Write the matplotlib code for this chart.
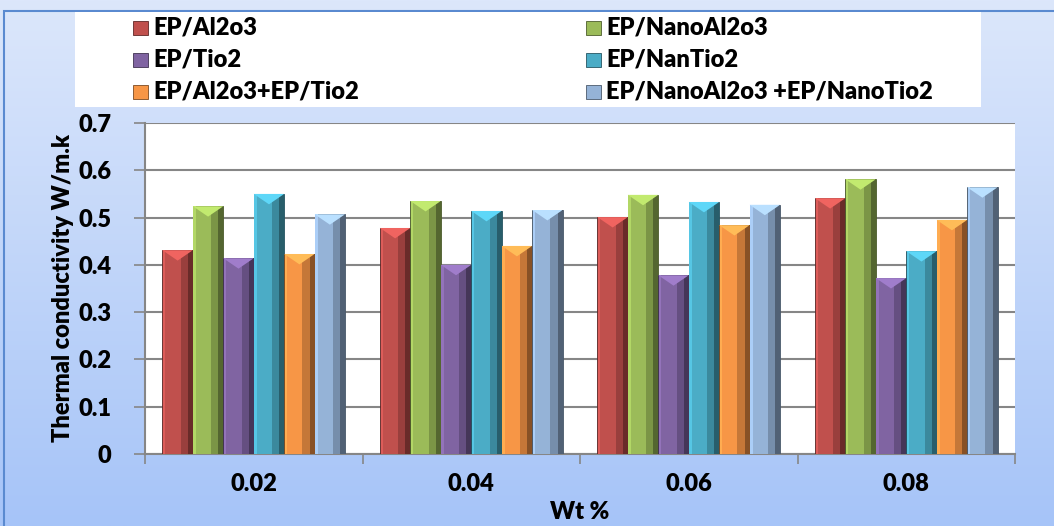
import numpy as np
import matplotlib.pyplot as plt
from matplotlib.patches import Rectangle
from matplotlib.colors import to_rgb

# data
categories = ['0.02', '0.04', '0.06', '0.08']
series_names = ['EP/Al2o3', 'EP/NanoAl2o3', 'EP/Tio2', 'EP/NanTio2',
                'EP/Al2o3+EP/Tio2', 'EP/NanoAl2o3 +EP/NanoTio2']
ep_al2o3 = [0.431, 0.478, 0.501, 0.541]
ep_nanoal2o3 = [0.524, 0.535, 0.548, 0.581]
ep_tio2 = [0.414, 0.400, 0.378, 0.372]
ep_nantio2 = [0.550, 0.514, 0.533, 0.429]
ep_mix = [0.423, 0.440, 0.484, 0.495]
ep_nanomix = [0.507, 0.516, 0.527, 0.564]
values = [ep_al2o3, ep_nanoal2o3, ep_tio2, ep_nantio2, ep_mix, ep_nanomix]
colors = ['#C0504D', '#9BBB59', '#8064A2', '#4BACC6', '#F79646', '#95B3D7']

W, H = 1054, 526
fig = plt.figure(figsize=(W/100, H/100), dpi=100)
plt.rcParams['font.family'] = ['Lato', 'DejaVu Sans']
FS = 17
FW = 'heavy'

# background gradient
bg = fig.add_axes([0, 0, 1, 1], zorder=-10)
grad = np.linspace(0, 1, 256)[:, None]
top = np.array(to_rgb('#dce7fb'))
bot = np.array(to_rgb('#a6c4f8'))
img = top[None, None, :] * (1 - grad[:, :, None]) + bot[None, None, :] * grad[:, :, None]
bg.imshow(img, aspect='auto', extent=[0, 1, 0, 1])
bg.add_patch(Rectangle((4/W, -0.01), 1.1, 1 - 11/H + 0.01, fill=False,
                       ec='#5a8ad0', lw=1.5, transform=bg.transAxes))
bg.set_xlim(0, 1); bg.set_ylim(0, 1)
bg.axis('off')

# plot area
ax = fig.add_axes([145/W, (H-454)/H, (1015-145)/W, (454-123)/H])
ax.set_facecolor('white')
n = len(values)
x = np.arange(len(categories))
bw = 0.14
for i, (vals, c) in enumerate(zip(values, colors)):
    pos = x - bw*n/2 + bw*(i + 0.5)
    base = np.array(to_rgb(c))
    ax.bar(pos, vals, bw, color=c, edgecolor=base*0.45, lw=0.6, zorder=3)
    # bevel look: light left edge, darker right side
    ax.bar(pos - bw*0.44, vals, bw*0.08, color=np.minimum(base*1.15, 1), lw=0, zorder=4)
    ax.bar(pos + bw*0.3, vals, bw*0.4, color=base*0.55, alpha=0.45, lw=0, zorder=4)
    ax.bar(pos + bw*0.42, vals, bw*0.16, color=base*0.3, alpha=0.5, lw=0, zorder=4)
    # top highlight triangle
    for p, v in zip(pos, vals):
        ax.fill([p - bw/2, p + bw/2, p], [v, v, v - 0.022],
                color=np.minimum(base*1.25, 1), zorder=5, lw=0)

ax.set_xlim(-0.5, len(categories) - 0.5)
ax.set_ylim(0, 0.7)
ax.set_yticks(np.arange(0, 0.71, 0.1))
ax.set_yticklabels(['0', '0.1', '0.2', '0.3', '0.4', '0.5', '0.6', '0.7'],
                   fontsize=FS, fontweight=FW)
ax.set_xticks(x)
ax.set_xticklabels(categories, fontsize=FS, fontweight=FW)
ax.set_xticks(np.arange(-0.5, len(categories)), minor=True)
ax.tick_params(axis='x', which='major', length=0, pad=14)
ax.tick_params(axis='x', which='minor', length=7, color='#868686', width=1.2)
ax.tick_params(axis='y', length=8, color='#868686', width=1.2, pad=16)
ax.yaxis.grid(True, color='#868686', lw=1.5, zorder=1)
ax.set_axisbelow(True)
for s in ['top', 'right']:
    ax.spines[s].set_visible(False)
for s in ['left', 'bottom']:
    ax.spines[s].set_color('#868686')
    ax.spines[s].set_linewidth(1.5)
ax.set_ylabel('Thermal conductivity W/m.k', fontsize=FS, fontweight=FW, labelpad=3)
fig.text(580/W, (H-512)/H, 'Wt %', fontsize=FS, fontweight=FW, ha='center', va='center')

# legend box
fig.patches.append(Rectangle((75/W, (H-107)/H), 906/W, 95/H, facecolor='white',
                             edgecolor='none', transform=fig.transFigure, zorder=1))
for i, (name, c) in enumerate(zip(series_names, colors)):
    row, col = i // 2, i % 2
    x0 = [133, 586][col]
    yc = [28, 60, 92][row]
    fig.patches.append(Rectangle((x0/W, (H-yc-7)/H), 15/W, 14/H, facecolor=c,
                                 edgecolor=np.array(to_rgb(c))*0.5, lw=0.6,
                                 transform=fig.transFigure, zorder=2))
    fig.text((x0+20)/W, (H-yc)/H, name, fontsize=FS, fontweight=FW,
             va='center', ha='left', zorder=3)

fig.savefig('out.png', dpi=100)
